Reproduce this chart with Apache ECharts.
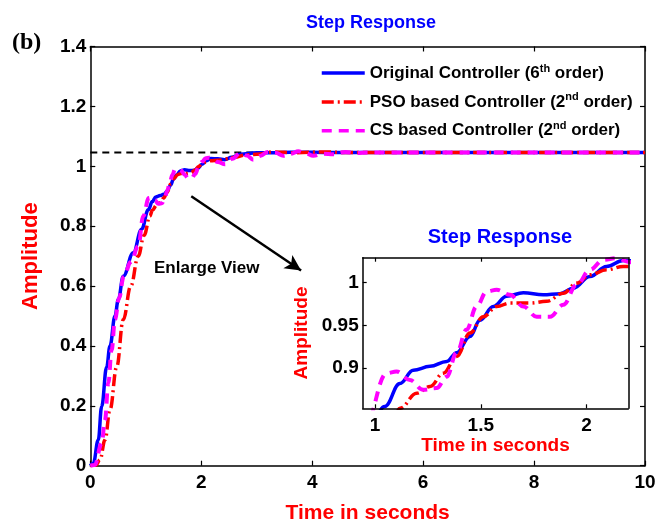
<!DOCTYPE html>
<html>
<head>
<meta charset="utf-8">
<script src="https://cdn.jsdelivr.net/npm/echarts@6/dist/echarts.min.js"></script>
<style>html,body{margin:0;padding:0;background:#fff}#c{width:664px;height:525px}</style>
</head>
<body>
<div id="c"></div>
<script>
// ---- data ----
const seriesNames = ['Original Controller (6th order)', 'PSO based Controller (2nd order)', 'CS based Controller (2nd order)'];
const blueT = [0, 0.054, 0.144, 0.205, 0.295, 0.355, 0.445, 0.505, 0.595, 0.775, 0.926, 1.046, 1.118, 1.181, 1.26, 1.339, 1.386, 1.449, 1.496, 1.559, 1.622, 1.701, 1.795, 1.874, 1.937, 2.016, 2.094, 2.173, 2.3, 2.42, 2.55, 2.7, 3.0, 3.2, 3.42, 3.8, 4.2, 5, 10];
const blueY = [0, 0.008, 0.086, 0.198, 0.33, 0.4, 0.5, 0.555, 0.633, 0.711, 0.79, 0.855, 0.882, 0.8975, 0.902, 0.9077, 0.918, 0.937, 0.956, 0.972, 0.984, 0.988, 0.9856, 0.987, 0.9934, 1.007, 1.0187, 1.0257, 1.025, 1.022, 1.03, 1.04, 1.045, 1.045, 1.046, 1.047, 1.046, 1.046, 1.046];
const redT = [0, 0.1, 0.175, 0.265, 0.355, 0.476, 0.595, 0.73, 0.865, 0.97, 1.076, 1.118, 1.197, 1.26, 1.323, 1.386, 1.449, 1.512, 1.575, 1.638, 1.732, 1.811, 1.89, 1.953, 2.016, 2.094, 2.173, 2.3, 2.45, 2.6, 2.8, 3.0, 3.3, 3.7, 4.2, 4.6, 5, 10];
const redY = [0, 0.002, 0.02, 0.086, 0.187, 0.33, 0.488, 0.6, 0.70, 0.77, 0.834, 0.853, 0.8706, 0.8785, 0.894, 0.9136, 0.941, 0.96, 0.972, 0.976, 0.976, 0.978, 0.9876, 0.9993, 1.009, 1.0148, 1.0187, 1.02, 1.025, 1.03, 1.038, 1.04, 1.048, 1.045, 1.048, 1.046, 1.046, 1.046];
const pinkT = [0, 0.08, 0.205, 0.265, 0.325, 0.385, 0.445, 0.52, 0.6, 0.73, 0.865, 0.955, 1.055, 1.102, 1.165, 1.228, 1.291, 1.339, 1.386, 1.433, 1.48, 1.528, 1.575, 1.638, 1.701, 1.764, 1.827, 1.89, 1.953, 2.016, 2.079, 2.142, 2.2, 2.3, 2.43, 2.56, 2.7, 2.82, 2.94, 3.07, 3.2, 3.34, 3.48, 3.62, 3.75, 3.88, 4.02, 4.2, 4.38, 4.6, 4.8, 5, 10];
const pinkY = [0, 0.002, 0.075, 0.153, 0.276, 0.387, 0.488, 0.56, 0.63, 0.68, 0.733, 0.834, 0.894, 0.896, 0.886, 0.8746, 0.8766, 0.890, 0.918, 0.945, 0.972, 0.9895, 0.9915, 0.9856, 0.972, 0.960, 0.960, 0.974, 0.9973, 1.0148, 1.0265, 1.0285, 1.024, 1.014, 1.007, 1.025, 1.044, 1.036, 1.022, 1.035, 1.048, 1.045, 1.035, 1.042, 1.05, 1.044, 1.035, 1.042, 1.04, 1.048, 1.044, 1.046, 1.046];
const refT = [0, 10];
const refY = [1.046, 1.046];
const mainXTicks = [0, 2, 4, 6, 8, 10];
const mainYTicks = [0, 0.2, 0.4, 0.6, 0.8, 1, 1.2, 1.4];
const insetXTicks = [1, 1.5, 2];
const insetYTicks = [0.9, 0.95, 1];
const arrowFrom = [1.82, 0.9];
const arrowTo = [3.8, 0.652];

const pairs = (t, y) => t.map((v, i) => [v, y[i]]);
const FONT = 'Liberation Sans';
const colors = ['#0000ff', '#ff0000', '#ff00ff'];
const styles = [
  { width: 3.5, type: 'solid' },
  { width: 3.5, type: [12, 4, 2, 4] },
  { width: 4, type: [10, 7] }
];
const dataSets = [pairs(blueT, blueY), pairs(redT, redY), pairs(pinkT, pinkY)];

function axisCommon(extra) {
  return Object.assign({
    type: 'value',
    axisLine: { show: true, onZero: false, lineStyle: { color: '#000', width: 1.5 } },
    axisTick: { show: true, inside: true, length: 5, lineStyle: { color: '#000', width: 1.2 } },
    splitLine: { show: false },
    axisLabel: { color: '#000', fontFamily: FONT, fontWeight: 'bold', fontSize: 19 }
  }, extra);
}

const series = [];
series.push({
  type: 'line', xAxisIndex: 0, yAxisIndex: 0, data: pairs(refT, refY), symbol: 'none',
  lineStyle: { color: '#000', width: 2, type: [7, 5] }, silent: true, z: 1
});
dataSets.forEach((d, i) => {
  const s = {
    name: seriesNames[i], type: 'line', xAxisIndex: 0, yAxisIndex: 0, data: d,
    symbol: 'none', smooth: 0.4, smoothMonotone: 'x', color: colors[i],
    lineStyle: Object.assign({ color: colors[i] }, styles[i]), z: 2
  };
  if (i === 0) {
    s.markLine = {
      silent: true, symbol: ['none', 'arrow'], symbolSize: [12, 16],
      label: { show: false },
      lineStyle: { color: '#000', width: 2.5, type: 'solid' },
      data: [[{ coord: arrowFrom }, { coord: arrowTo }]]
    };
  }
  series.push(s);
});
dataSets.forEach((d, i) => {
  series.push({
    name: seriesNames[i], type: 'line', xAxisIndex: 2, yAxisIndex: 2, data: d,
    symbol: 'none', smooth: 0.4, smoothMonotone: 'x', color: colors[i], clip: true,
    lineStyle: Object.assign({ color: colors[i] }, styles[i]), z: 5
  });
});

const supRich = {
  a: { fontFamily: FONT, fontWeight: 'bold', fontSize: 17, color: '#000', lineHeight: 20 },
  sup: { fontFamily: FONT, fontWeight: 'bold', fontSize: 11, color: '#000', lineHeight: 10, verticalAlign: 'top' }
};
function legendFmt(name) {
  const m = name.match(/^(.*\(\d)(th|nd)( order\))$/);
  if (!m) return '{a|' + name + '}';
  return '{a|' + m[1] + '}{sup|' + m[2] + '}{a|' + m[3] + '}';
}

const option = {
  backgroundColor: '#fff',
  animation: false,
  title: [
    { text: 'Step Response', left: 366, top: 9, textAlign: 'center',
      textStyle: { color: '#0000ff', fontFamily: FONT, fontWeight: 'bold', fontSize: 18 } },
    { text: 'Step Response', left: 495, top: 222, textAlign: 'center',
      textStyle: { color: '#0000ff', fontFamily: FONT, fontWeight: 'bold', fontSize: 20 } }
  ],
  legend: {
    data: seriesNames, orient: 'vertical', left: 315, top: 58,
    itemWidth: 43, itemHeight: 14, itemGap: 10.4,
    itemStyle: { color: 'rgba(0,0,0,0)', borderWidth: 0, opacity: 0 },
    lineStyle: { width: 3.5 },
    formatter: legendFmt,
    textStyle: { rich: supRich, fontSize: 17, fontWeight: 'bold', fontFamily: FONT, color: '#000' },
    selectedMode: false
  },
  grid: [
    { left: 90.3, right: 19, top: 46.5, bottom: 59.3, show: false, outerBoundsMode: 'none', containLabel: false },
    { left: 362.7, right: 35.7, top: 257.7, bottom: 116.7, show: true, backgroundColor: '#fff', borderWidth: 0, z: 4, outerBoundsMode: 'none', containLabel: false }
  ],
  xAxis: [
    axisCommon({ gridIndex: 0, min: 0, max: 10, interval: 2, position: 'bottom',
      axisLabel: { color: '#000', fontFamily: FONT, fontWeight: 'bold', fontSize: 19, margin: 8,
        customValues: mainXTicks },
      axisTick: { show: true, inside: true, length: 5, customValues: mainXTicks, lineStyle: { color: '#000', width: 1.2 } },
      name: 'Time in seconds', nameLocation: 'middle', nameGap: 37,
      nameTextStyle: { color: '#ff0000', fontFamily: FONT, fontWeight: 'bold', fontSize: 21 } }),
    axisCommon({ gridIndex: 0, min: 0, max: 10, interval: 2, position: 'top', axisLabel: { show: false } }),
    axisCommon({ gridIndex: 1, min: 0.942, max: 2.197, position: 'bottom', z: 6,
      axisLabel: { color: '#000', fontFamily: FONT, fontWeight: 'bold', fontSize: 19, margin: 8, customValues: insetXTicks },
      axisTick: { show: true, inside: true, length: 4, customValues: insetXTicks, lineStyle: { color: '#000', width: 1.2 } },
      name: 'Time in seconds', nameLocation: 'middle', nameGap: 28,
      nameTextStyle: { color: '#ff0000', fontFamily: FONT, fontWeight: 'bold', fontSize: 19 } }),
    axisCommon({ gridIndex: 1, min: 0.942, max: 2.197, position: 'top', z: 6,
      axisLabel: { show: false },
      axisTick: { show: true, inside: true, length: 4, customValues: insetXTicks, lineStyle: { color: '#000', width: 1.2 } } })
  ],
  yAxis: [
    axisCommon({ gridIndex: 0, min: 0, max: 1.4, interval: 0.2, position: 'left',
      axisLabel: { color: '#000', fontFamily: FONT, fontWeight: 'bold', fontSize: 19, margin: 4, customValues: mainYTicks },
      axisTick: { show: true, inside: true, length: 5, customValues: mainYTicks, lineStyle: { color: '#000', width: 1.2 } },
      name: 'Amplitude', nameLocation: 'middle', nameGap: 48,
      nameTextStyle: { color: '#ff0000', fontFamily: FONT, fontWeight: 'bold', fontSize: 22 } }),
    axisCommon({ gridIndex: 0, min: 0, max: 1.4, interval: 0.2, position: 'right', axisLabel: { show: false } }),
    axisCommon({ gridIndex: 1, min: 0.853, max: 1.029, position: 'left', z: 6,
      axisLabel: { color: '#000', fontFamily: FONT, fontWeight: 'bold', fontSize: 19, margin: 4, customValues: insetYTicks },
      axisTick: { show: true, inside: true, length: 4, customValues: insetYTicks, lineStyle: { color: '#000', width: 1.2 } },
      name: 'Amplitude', nameLocation: 'middle', nameGap: 51,
      nameTextStyle: { color: '#ff0000', fontFamily: FONT, fontWeight: 'bold', fontSize: 19 } }),
    axisCommon({ gridIndex: 1, min: 0.853, max: 1.029, position: 'right', z: 6,
      axisLabel: { show: false },
      axisTick: { show: true, inside: true, length: 4, customValues: insetYTicks, lineStyle: { color: '#000', width: 1.2 } } })
  ],
  graphic: [
    { type: 'text', left: 12, top: 31, style: { text: '(b)', fill: '#000', font: 'bold 24px "Liberation Serif"' } },
    { type: 'text', left: 154, top: 260, style: { text: 'Enlarge View', fill: '#000', font: 'bold 17px "Liberation Sans"' } }
  ],
  series: series
};

const chart = echarts.init(document.getElementById('c'), null, { renderer: 'canvas' });
chart.setOption(option);
</script>
</body>
</html>
